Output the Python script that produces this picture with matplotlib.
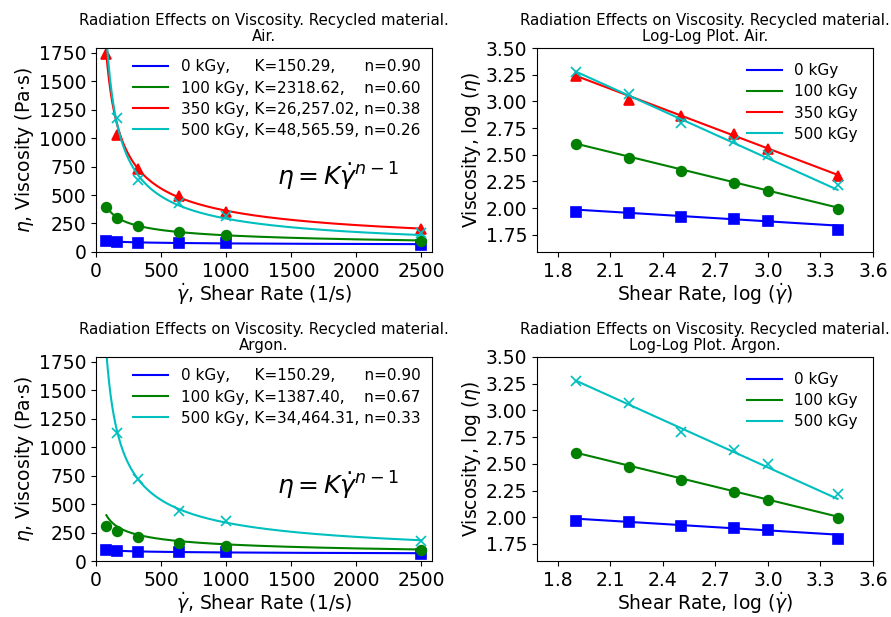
import numpy as np
import matplotlib
matplotlib.use("Agg")
import matplotlib.pyplot as plt

# shear rates (1/s)
shear = np.array([80, 160, 320, 640, 1000, 2500])
log_shear = np.log10(shear)

# measured viscosities, air (Pa.s)
air_0 = [93, 91, 83, 79, 76, 63]
air_100 = [398, 295, 224, 174, 145, 98]
air_350 = [1738, 1023, 724, 490, 355, 200]
air_500 = [1905, 1175, 631, 427, 316, 166]

# measured viscosities, argon (Pa.s)
ar_0 = [93, 91, 83, 79, 76, 63]
ar_100 = [309, 260, 207, 157, 134, 95]
ar_500 = [1830, 1126, 724, 435, 350, 180]

# power law fits (legend values)
air_doses = ["0 kGy", "100 kGy", "350 kGy", "500 kGy"]
air_K = [150.29, 2318.62, 26257.02, 48565.59]
air_n = [0.90, 0.60, 0.38, 0.26]
air_labels = ["0 kGy,     K=150.29,      n=0.90",
              "100 kGy, K=2318.62,    n=0.60",
              "350 kGy, K=26,257.02, n=0.38",
              "500 kGy, K=48,565.59, n=0.26"]

ar_doses = ["0 kGy", "100 kGy", "500 kGy"]
ar_labels = ["0 kGy,     K=150.29,      n=0.90",
             "100 kGy, K=1387.40,    n=0.67",
             "500 kGy, K=34,464.31, n=0.33"]
# curves as they are drawn in the figure
ar_K_curve = [150.29, 2318.62, 34464.31]
ar_n_curve = [0.90, 0.60, 0.33]

colors_air = ["b", "g", "r", "c"]
markers_air = ["s", "o", "^", "x"]
colors_ar = ["b", "g", "c"]
markers_ar = ["s", "o", "x"]

title_fs = 10.8
tick_fs = 13.5
lab_fs = 13.5
leg_fs = 11

fig = plt.figure(figsize=(8.91, 6.17), dpi=100)
ax1 = fig.add_axes([0.1077, 0.5916, 0.377, 0.3306])
ax2 = fig.add_axes([0.6027, 0.5916, 0.377, 0.3306])
ax3 = fig.add_axes([0.1077, 0.0907, 0.377, 0.3307])
ax4 = fig.add_axes([0.6027, 0.0907, 0.377, 0.3307])

xf = np.linspace(80, 2500, 600)


def linear_panel(ax, data, K, n, labels, colors, markers, title):
    for d, k, nn, lab, c, m in zip(data, K, n, labels, colors, markers):
        ax.plot(xf, k * xf ** (nn - 1), color=c, lw=1.5, label=lab)
        ax.plot(shear, d, m, color=c, ms=7, mew=1.2)
    ax.set_xlim(0, 2580)
    ax.set_ylim(0, 1790)
    ax.set_yticks(np.arange(0, 1751, 250))
    ax.set_xticks([0, 500, 1000, 1500, 2000, 2500])
    ax.tick_params(labelsize=tick_fs)
    ax.set_xlabel(r"$\dot{\gamma}$, Shear Rate (1/s)", fontsize=lab_fs, labelpad=0.5)
    ax.set_ylabel(r"$\eta$, Viscosity (Pa$\cdot$s)", fontsize=lab_fs, labelpad=2)
    ax.set_title(title, fontsize=title_fs, pad=5, linespacing=1.1)
    ax.legend(loc="upper right", frameon=False, fontsize=leg_fs,
              handlelength=2.3, labelspacing=0.4, borderaxespad=0.35)
    ax.text(0.54, 0.37, r"$\eta = K\dot{\gamma}^{n-1}$", transform=ax.transAxes,
            fontsize=18, va="center")


def log_panel(ax, data, K, n, labels, colors, markers, title):
    xl = np.linspace(log_shear[0], log_shear[-1], 50)
    for d, k, nn, lab, c, m in zip(data, K, n, labels, colors, markers):
        ax.plot(xl, np.log10(k) + (nn - 1) * xl, color=c, lw=1.5, label=lab)
        ax.plot(log_shear, np.log10(d), m, color=c, ms=7, mew=1.2)
    ax.set_xlim(1.68, 3.6)
    ax.set_ylim(1.59, 3.5)
    ax.set_xticks([1.8, 2.1, 2.4, 2.7, 3.0, 3.3, 3.6])
    ax.set_yticks([1.75, 2.0, 2.25, 2.5, 2.75, 3.0, 3.25, 3.5])
    ax.tick_params(labelsize=tick_fs)
    ax.set_xlabel(r"Shear Rate, log ($\dot{\gamma}$)", fontsize=lab_fs, labelpad=0.5)
    ax.set_ylabel(r"Viscosity, log ($\eta$)", fontsize=lab_fs, labelpad=2)
    ax.set_title(title, fontsize=title_fs, pad=5, linespacing=1.1)
    ax.legend(loc="upper right", frameon=False, fontsize=leg_fs,
              handlelength=2.3, labelspacing=0.4, borderaxespad=0.6)


linear_panel(ax1, [air_0, air_100, air_350, air_500], air_K, air_n, air_labels,
             colors_air, markers_air,
             "Radiation Effects on Viscosity. Recycled material.\nAir.")
log_panel(ax2, [air_0, air_100, air_350, air_500], air_K, air_n, air_doses,
          colors_air, markers_air,
          "Radiation Effects on Viscosity. Recycled material.\nLog-Log Plot. Air.")
linear_panel(ax3, [ar_0, ar_100, ar_500], ar_K_curve, ar_n_curve, ar_labels,
             colors_ar, markers_ar,
             "Radiation Effects on Viscosity. Recycled material.\nArgon.")
# log-log argon panel shows the same curves as the air one
log_panel(ax4, [air_0, air_100, air_500], [air_K[0], air_K[1], air_K[3]],
          [air_n[0], air_n[1], air_n[3]], ar_doses, colors_ar, markers_ar,
          "Radiation Effects on Viscosity. Recycled material.\nLog-Log Plot. Argon.")

fig.savefig("out.png", dpi=100)
